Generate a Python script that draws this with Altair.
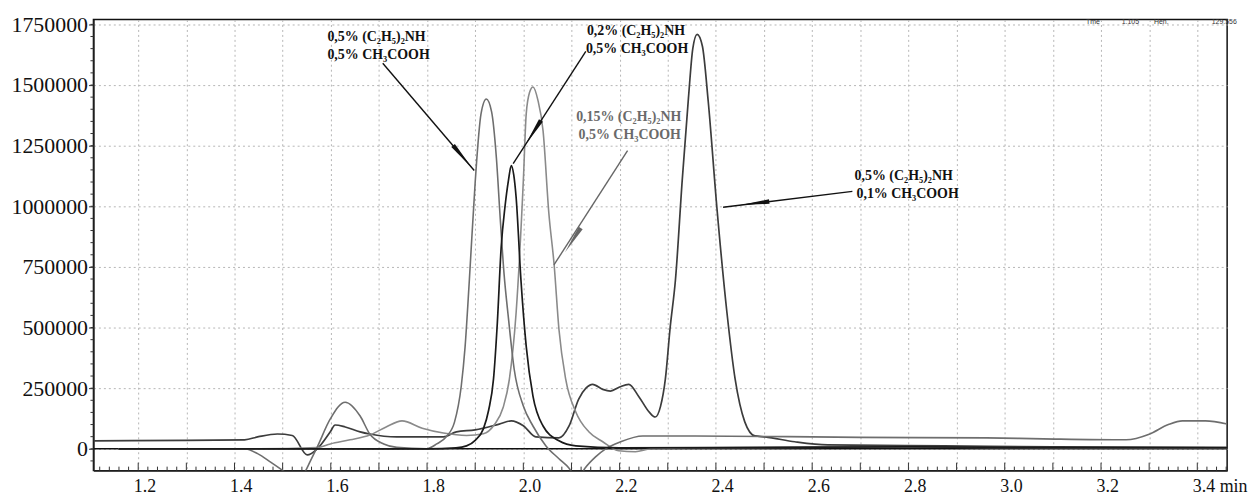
import altair as alt
import pandas as pd

# ---------------- data (time in min, signal) ----------------
# Trace A: 0,5% (C2H5)2NH / 0,5% CH3COOH
a_t = [1.159, 1.300, 1.421, 1.448, 1.475, 1.504, 1.527, 1.545, 1.557, 1.572, 1.599, 1.630, 1.661, 1.681,
       1.710, 1.737, 1.799, 1.820, 1.840, 1.857, 1.871, 1.879, 1.888, 1.900, 1.912, 1.923, 1.934, 1.944,
       1.952, 1.960, 1.969, 1.981, 2.000, 2.020, 2.047, 2.074, 2.095, 2.112, 2.128, 2.150, 2.171, 2.202,
       2.248, 2.357, 2.700, 2.962, 3.080, 3.252, 3.300, 3.340, 3.369, 3.417, 3.462]
a_y = [0, 0, 0, -20000, -55000, -95000, -130000, -100000, -53000, 8000, 123000, 192000, 135000, 61000,
       20000, 6000, 0, 20000, 50000, 110000, 258000, 420000, 700000, 1100000, 1380000, 1442000, 1390000, 1200000,
       950000, 720000, 540000, 328000, 176000, 94000, 12000, -41000, -80000, -130000, -80000, -33000, 0, 29000,
       53000, 53000, 47000, 45000, 41000, 37000, 60000, 100000, 115000, 115000, 102000]

# Trace B: 0,2% (C2H5)2NH / 0,5% CH3COOH
b_t = [1.159, 1.500, 1.800, 1.860, 1.882, 1.900, 1.917, 1.928, 1.938, 1.946, 1.954, 1.962, 1.969, 1.975,
       1.980, 1.985, 1.995, 2.006, 2.020, 2.041, 2.074, 2.109, 2.200, 2.500, 2.800, 3.100, 3.462]
b_y = [0, 0, 0, 4000, 12000, 35000, 82000, 160000, 287000, 520000, 832000, 1000000, 1106000, 1168000,
       1130000, 1037000, 697000, 422000, 217000, 94000, 33000, 12000, 4000, 6000, 8000, 5000, 4000]

# Trace C: 0,15% (C2H5)2NH / 0,5% CH3COOH
c_t = [1.159, 1.450, 1.572, 1.599, 1.640, 1.681, 1.715, 1.748, 1.790, 1.834, 1.882, 1.917, 1.940, 1.958,
       1.971, 1.985, 2.000, 2.006, 2.013, 2.020, 2.030, 2.041, 2.053, 2.064, 2.074, 2.088, 2.109, 2.136,
       2.165, 2.198, 2.233, 2.264, 2.350, 2.800, 3.100, 3.462]
c_y = [0, 0, 5000, 20000, 37000, 57000, 90000, 115000, 85000, 65000, 55000, 62000, 100000, 170000,
       287000, 561000, 1106000, 1381000, 1470000, 1492000, 1440000, 1311000, 971000, 758000, 492000, 287000, 152000, 70000,
       29000, -8000, -12000, 0, 4000, 8000, 4000, 2000]

# Trace D: 0,5% (C2H5)2NH / 0,1% CH3COOH
d_t = [1.107, 1.300, 1.421, 1.450, 1.489, 1.520, 1.551, 1.572, 1.599, 1.609, 1.630, 1.661, 1.681, 1.737,
       1.834, 1.861, 1.900, 1.950, 1.975, 2.000, 2.026, 2.074, 2.095, 2.115, 2.130, 2.144, 2.165, 2.181,
       2.200, 2.219, 2.240, 2.262, 2.274, 2.285, 2.295, 2.305, 2.316, 2.330, 2.343, 2.352, 2.361, 2.372,
       2.384, 2.402, 2.423, 2.440, 2.460, 2.481, 2.502, 2.564, 2.632, 2.874, 3.100, 3.462]
d_y = [33000, 35000, 37000, 50000, 61000, 55000, -25000, 0, 70000, 98000, 90000, 70000, 61000, 49000,
       49000, 70000, 78000, 102000, 115000, 95000, 49000, 45000, 94000, 205000, 250000, 266000, 245000, 238000,
       255000, 266000, 215000, 150000, 131000, 175000, 287000, 500000, 697000, 1106000, 1447000, 1650000, 1709000, 1660000,
       1434000, 996000, 561000, 287000, 111000, 53000, 49000, 29000, 16000, 12000, 8000, 6000]

# annotation texts
lab_text = ["0,5% (C₂H₅)₂NH", "0,5% CH₃COOH",
            "0,2% (C₂H₅)₂NH", "0,5% CH₃COOH",
            "0,5% (C₂H₅)₂NH", "0,1% CH₃COOH"]
lab_t = [1.593, 1.593, 2.132, 2.130, 2.688, 2.692]
lab_y = [1696600, 1622800, 1721200, 1647400, 1122900, 1049100]

lab3_text = ["0,15% (C₂H₅)₂NH", "0,5% CH₃COOH"]
lab3_t = [2.219, 2.221]
lab3_y = [1368700, 1295000]

# arrows (start -> end) and arrowheads
arr_t1 = [1.708, 2.1298, 2.6835]
arr_y1 = [1590000, 1639200, 1061400]
arr_t2 = [1.898, 1.9789, 2.4149]
arr_y2 = [1147400, 1176100, 995800]
head_t = [1.8736, 2.0202, 2.481]
head_y = [1204800, 1303200, 1012200]
head_ang = [139.6, 212.9, 263.0]

arr3_t1, arr3_y1, arr3_t2, arr3_y2 = [2.2165], [1229400], [2.0636], [758100]
head3_t, head3_y, head3_ang = [2.1029], [860600], [212.8]

info_text = ["Tme", "1.105", "Hen.", "129.556"]
info_t = [3.169, 3.243, 3.310, 3.430]
info_y = [1758000, 1758000, 1758000, 1758000]

x_ticks = [round(1.2 + 0.1 * i, 1) for i in range(23)]
x_minor = [round(1.12 + 0.02 * i, 2) for i in range(118)]
y_ticks = [0, 250000, 500000, 750000, 1000000, 1250000, 1500000, 1750000]
y_minor = [-50000 + 50000 * i for i in range(37)]

X_DOM = [1.107, 3.462]
Y_DOM = [-90000, 1770000]
SERIF = "Liberation Serif"

xs = alt.Scale(domain=X_DOM, nice=False, zero=False)
ys = alt.Scale(domain=Y_DOM, nice=False, zero=False)

x_axis = alt.Axis(values=x_ticks, title=None, grid=True, gridDash=[2, 3], gridColor="#b5b5b5",
                  labelExpr="round(datum.value*10) % 2 == 0 ? (round(datum.value*10) == 34 ? '3.4 min' : format(datum.value, '.1f')) : ''",
                  labelFont=SERIF, labelFontSize=18, labelColor="#111", labelAlign="left", labelOffset=-5,
                  labelPadding=7, ticks=False, domainColor="#222", domainWidth=1.5,
                  labelFlush=False, labelOverlap=False)
y_axis = alt.Axis(values=y_ticks, title=None, grid=True, gridDash=[2, 3], gridColor="#b5b5b5",
                  format="d", labelFont=SERIF, labelFontSize=22, labelColor="#111", labelPadding=1,
                  tickSize=5, tickColor="#333", domainColor="#222", domainWidth=1.5,
                  labelFlush=False, labelOverlap=False)


def trace(t, y, color, width=1.6):
    df = pd.DataFrame({"t": t, "y": y})
    return alt.Chart(df).mark_line(color=color, strokeWidth=width, interpolate="monotone", clip=True).encode(
        x=alt.X("t:Q", scale=xs, axis=x_axis), y=alt.Y("y:Q", scale=ys, axis=y_axis))


zero = alt.Chart(pd.DataFrame({"z": [0]})).mark_rule(color="#111", strokeWidth=1.4).encode(
    y=alt.Y("z:Q", scale=ys, axis=y_axis))

# inward x ticks (minor every 0.02, major every 0.1) and outward y minor ticks
x_major_df = pd.DataFrame({"t": [v for v in x_minor if abs(v * 10 - round(v * 10)) < 1e-6]})
x_minor_df = pd.DataFrame({"t": [v for v in x_minor if abs(v * 10 - round(v * 10)) >= 1e-6]})
x_major_rules = alt.Chart(x_major_df).mark_rule(color="#333", strokeWidth=1).encode(
    x=alt.X("t:Q", scale=xs), y=alt.value(454), y2=alt.value(446))
x_minor_rules = alt.Chart(x_minor_df).mark_rule(color="#333", strokeWidth=1).encode(
    x=alt.X("t:Q", scale=xs), y=alt.value(454), y2=alt.value(450))
ymin_df = pd.DataFrame({"v": y_minor})
y_tick_rules = alt.Chart(ymin_df).mark_rule(color="#333", strokeWidth=1).encode(
    y=alt.Y("v:Q", scale=ys), x=alt.value(0), x2=alt.value(-3))

lines = [trace(d_t, d_y, "#3c3c3c", 1.7), trace(c_t, c_y, "#8a8a8a", 1.6),
         trace(a_t, a_y, "#6e6e6e", 1.6), trace(b_t, b_y, "#1a1a1a", 1.7)]

arr_df = pd.DataFrame({"t1": arr_t1, "y1": arr_y1, "t2": arr_t2, "y2": arr_y2})
arrows = alt.Chart(arr_df).mark_rule(color="#111", strokeWidth=1.4).encode(
    x=alt.X("t1:Q", scale=xs), y=alt.Y("y1:Q", scale=ys), x2="t2:Q", y2="y2:Q")
arr3_df = pd.DataFrame({"t1": arr3_t1, "y1": arr3_y1, "t2": arr3_t2, "y2": arr3_y2})
arrows3 = alt.Chart(arr3_df).mark_rule(color="#666", strokeWidth=1.4).encode(
    x=alt.X("t1:Q", scale=xs), y=alt.Y("y1:Q", scale=ys), x2="t2:Q", y2="y2:Q")

WEDGE = "M0,-1L0.16,1L-0.16,1Z"
head_df = pd.DataFrame({"t": head_t, "y": head_y, "a": head_ang})
heads = alt.Chart(head_df).mark_point(shape=WEDGE, filled=True, color="#111", opacity=1, size=850).encode(
    x=alt.X("t:Q", scale=xs), y=alt.Y("y:Q", scale=ys), angle=alt.Angle("a:Q", scale=None))
head3_df = pd.DataFrame({"t": head3_t, "y": head3_y, "a": head3_ang})
heads3 = alt.Chart(head3_df).mark_point(shape=WEDGE, filled=True, color="#666", opacity=1, size=850).encode(
    x=alt.X("t:Q", scale=xs), y=alt.Y("y:Q", scale=ys), angle=alt.Angle("a:Q", scale=None))

lab_df = pd.DataFrame({"t": lab_t, "y": lab_y, "s": lab_text})
labels = alt.Chart(lab_df).mark_text(align="left", baseline="middle", font=SERIF, fontWeight="bold",
                                     fontSize=14, color="#111").encode(
    x=alt.X("t:Q", scale=xs), y=alt.Y("y:Q", scale=ys), text="s:N")
lab3_df = pd.DataFrame({"t": lab3_t, "y": lab3_y, "s": lab3_text})
labels3 = alt.Chart(lab3_df).mark_text(align="center", baseline="middle", font=SERIF, fontWeight="bold",
                                       fontSize=14, color="#6a6a6a").encode(
    x=alt.X("t:Q", scale=xs), y=alt.Y("y:Q", scale=ys), text="s:N")

info_df = pd.DataFrame({"t": info_t, "y": info_y, "s": info_text})
info = alt.Chart(info_df).mark_text(align="left", baseline="middle", font="Liberation Sans",
                                    fontSize=7, color="#333").encode(
    x=alt.X("t:Q", scale=xs), y=alt.Y("y:Q", scale=ys), text="s:N")

chart = alt.layer(zero, x_major_rules, x_minor_rules, y_tick_rules, *lines, arrows, arrows3, heads, heads3,
                  labels, labels3, info).properties(
    width=1141, height=454,
    autosize=alt.AutoSizeParams(type="none"),
    padding={"left": 86, "top": 10, "right": 21, "bottom": 34},
    background="white",
).configure_view(stroke="#111", strokeWidth=1.5)

chart.save("out.html", embed_options={"renderer": "svg", "actions": False})
